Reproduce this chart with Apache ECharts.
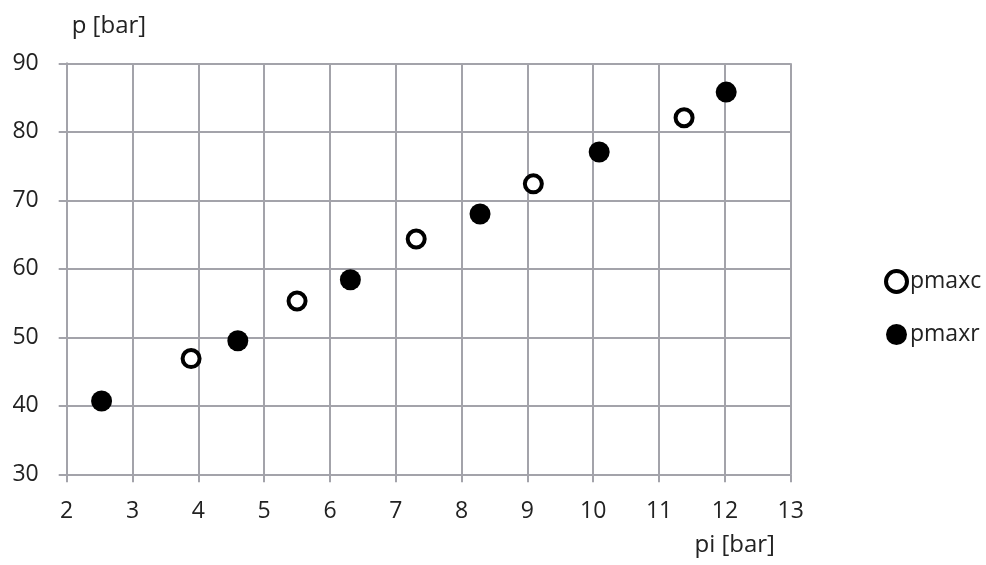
<!DOCTYPE html>
<html>
<head>
<meta charset="utf-8">
<script src="https://cdn.jsdelivr.net/npm/echarts@6/dist/echarts.min.js"></script>
<style>html,body{margin:0;padding:0;background:#fff;}#c{width:986px;height:565px;}</style>
</head>
<body>
<div id="c"></div>
<script>
const seriesNames = ['pmaxc', 'pmaxr'];
const pmaxc = [[3.89, 46.9], [5.5, 55.3], [7.31, 64.35], [9.09, 72.4], [11.38, 82.05]];
const pmaxr = [[2.53, 40.7], [4.6, 49.5], [6.31, 58.4], [8.28, 68.0], [10.09, 77.05], [12.02, 85.8]];
const xAxisName = 'pi [bar]';
const yAxisName = 'p [bar]';
const xRange = [2, 13, 1];
const yRange = [30, 90, 10];

const font = '"Open Sans", "Noto Sans", sans-serif';
const txt = '#222';
const gridColor = '#a3a3aa';
const chart = echarts.init(document.getElementById('c'), null, {renderer: 'canvas'});
chart.setOption({
  animation: false,
  backgroundColor: '#fff',
  grid: {left: 66.7, right: 195.3, top: 63.3, bottom: 90.7, containLabel: false},
  legend: {
    orient: 'vertical', left: 879, top: 264, itemGap: 29, itemWidth: 21, itemHeight: 21,
    icon: 'circle',
    textStyle: {fontFamily: font, fontSize: 23, color: txt, padding: [0, 0, 0, -2]},
    data: [
      {name: seriesNames[0], itemStyle: {borderWidth: 4, borderColor: '#000', color: '#fff'}},
      {name: seriesNames[1], itemStyle: {borderWidth: 0, color: '#000'}}
    ]
  },
  xAxis: {
    type: 'value', min: xRange[0], max: xRange[1], interval: xRange[2],
    name: xAxisName, nameLocation: 'end', nameGap: -56,
    nameTextStyle: {fontFamily: font, fontSize: 24, color: txt, align: 'center', verticalAlign: 'top', padding: [59, 0, 0, 0]},
    axisLine: {show: true, lineStyle: {color: gridColor, width: 2}},
    axisTick: {show: true, length: 8, lineStyle: {color: gridColor, width: 2}},
    axisLabel: {fontFamily: font, fontSize: 23, color: txt, margin: 26},
    splitLine: {show: true, lineStyle: {color: gridColor, width: 2}}
  },
  yAxis: {
    type: 'value', min: yRange[0], max: yRange[1], interval: yRange[2],
    name: yAxisName, nameLocation: 'end', nameGap: 37,
    nameTextStyle: {fontFamily: font, fontSize: 24, color: txt, align: 'left', verticalAlign: 'middle', padding: [0, 0, 0, 5]},
    axisLine: {show: true, lineStyle: {color: gridColor, width: 2}},
    axisTick: {show: true, length: 8, lineStyle: {color: gridColor, width: 2}},
    axisLabel: {fontFamily: font, fontSize: 23, color: txt, margin: 28},
    splitLine: {show: true, lineStyle: {color: gridColor, width: 2}}
  },
  series: [
    {
      name: seriesNames[0], type: 'scatter', data: pmaxc, symbol: 'circle', symbolSize: 17,
      itemStyle: {color: '#fff', borderColor: '#000', borderWidth: 4, opacity: 1}
    },
    {
      name: seriesNames[1], type: 'scatter', data: pmaxr, symbol: 'circle', symbolSize: 21,
      itemStyle: {color: '#000', opacity: 1}
    }
  ]
});
</script>
</body>
</html>
